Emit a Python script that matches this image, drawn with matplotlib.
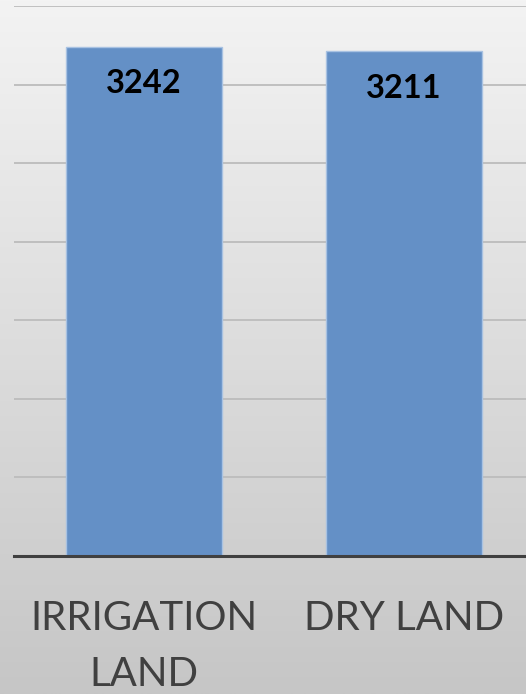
import numpy as np
import matplotlib
matplotlib.use("Agg")
import matplotlib.pyplot as plt

categories = ["IRRIGATION\nLAND", "DRY LAND"]
values = [3242, 3211]
y_max = 3500
grid_step = 500

W, H, DPI = 526, 694, 100
fig = plt.figure(figsize=(W / DPI, H / DPI), dpi=DPI)

# background gradient
bg = fig.add_axes([0, 0, 1, 1], zorder=-10)
grad = np.linspace(0, 1, 256).reshape(-1, 1)
top = np.array([243, 243, 243]) / 255
bot = np.array([198, 198, 198]) / 255
img = top + (bot - top) * grad[:, :, None]
bg.imshow(img, aspect="auto", extent=[0, 1, 0, 1], origin="upper")
bg.set_axis_off()

left = 14 / W
width = 520 / W
bottom = (H - 556) / H
height = 550 / H
ax = fig.add_axes([left, bottom, width, height])
ax.patch.set_alpha(0)

x = np.arange(len(categories))
bars = ax.bar(x, values, width=0.6, color="#6490c6", edgecolor="#a8c2e2",
              linewidth=1.0, zorder=3)
ax.set_xlim(-0.5, len(categories) - 0.5)
ax.set_ylim(0, y_max)
ax.set_yticks(np.arange(grid_step, y_max + 1, grid_step))
ax.yaxis.grid(True, color="#bcbcbc", linewidth=1.3, zorder=0)
ax.tick_params(axis="y", left=False, labelleft=False)
ax.tick_params(axis="x", bottom=False, labelbottom=False)
for s in ["top", "right", "left"]:
    ax.spines[s].set_visible(False)
ax.spines["bottom"].set_color("#404040")
ax.spines["bottom"].set_linewidth(2.2)
ax.spines["bottom"].set_zorder(5)

for xi, v in zip(x, values):
    ax.annotate(str(v), (xi, v), xytext=(0, -37), textcoords="offset pixels",
                ha="center", va="center", fontsize=23.5, fontweight="bold",
                family="Lato", color="black", zorder=6)

for xi, c in zip(x, categories):
    ax.annotate(c, (xi, 0), xytext=(0, -44), textcoords="offset pixels",
                ha="center", va="top", fontsize=29, family="Lato",
                color="#404040", linespacing=1.62, annotation_clip=False)

fig.savefig("out.png", dpi=DPI)
